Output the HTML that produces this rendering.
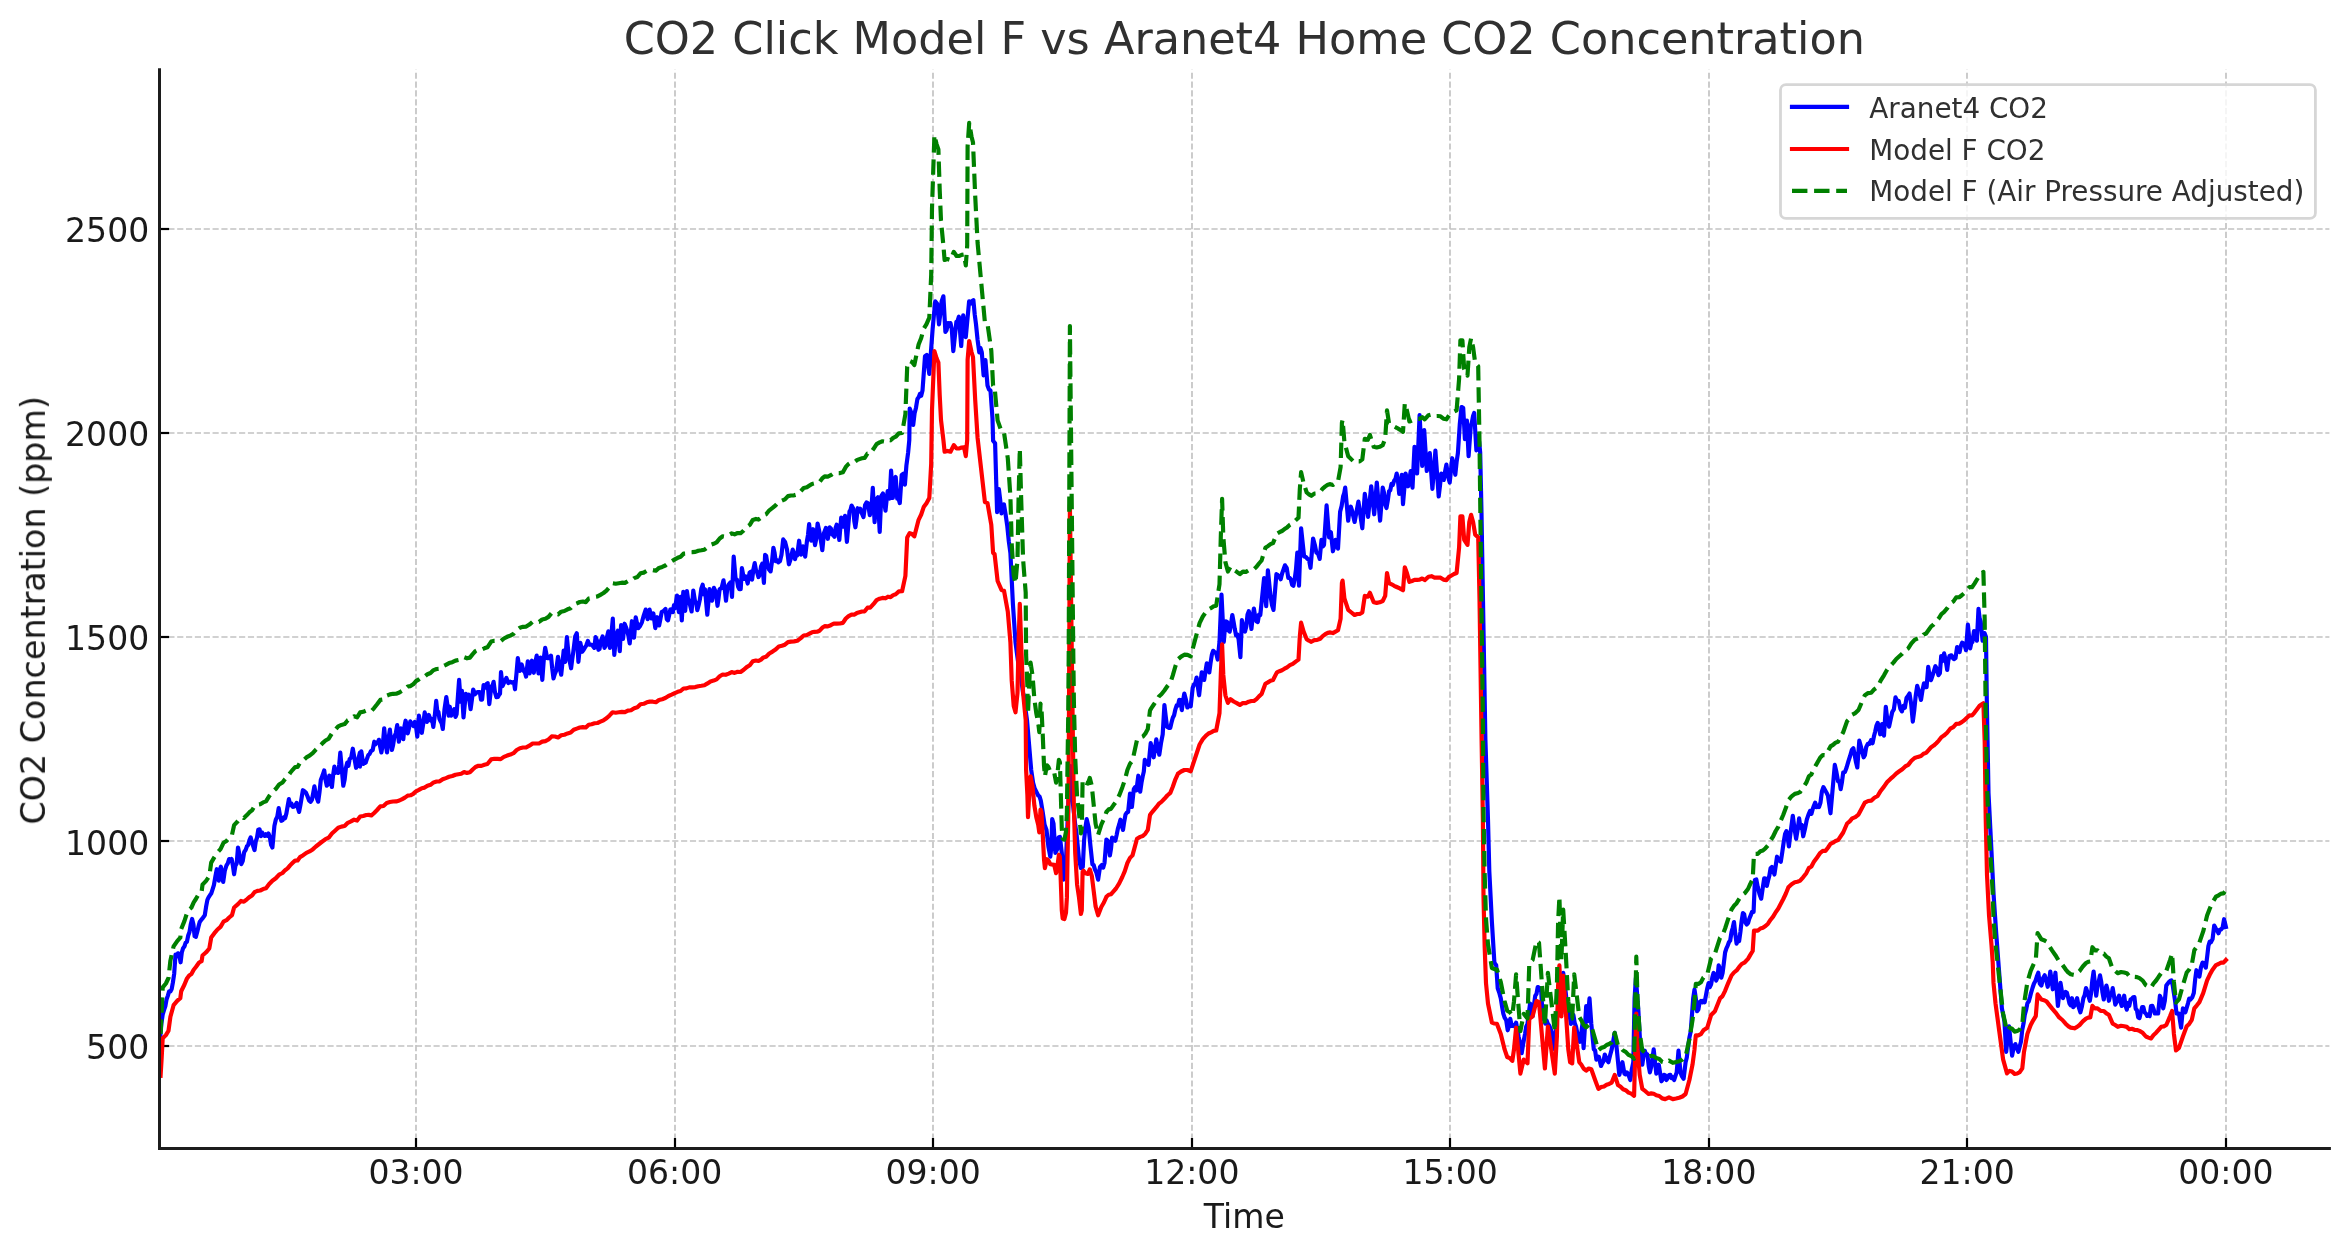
<!DOCTYPE html>
<html lang="en"><head><meta charset="utf-8"><title>CO2 Click Model F vs Aranet4 Home CO2 Concentration</title>
<style>
html,body{margin:0;padding:0;background:#fff;}
body{width:2348px;height:1255px;overflow:hidden;}
svg{display:block;}
text{font-family:"DejaVu Sans","Liberation Sans",sans-serif;}
.tick{font-size:33.05px;fill:#1a1a1a;}
.xl{font-size:33.05px;fill:#1a1a1a;}
.lab{font-size:33.33px;fill:#1a1a1a;}
.ttl{font-size:44.54px;fill:#303030;}
.leg{font-size:27.8px;fill:#303030;}
</style></head><body>
<svg width="2348" height="1255" viewBox="0 0 2348 1255">
<rect width="2348" height="1255" fill="#ffffff"/>

<g stroke="#c2c2c2" stroke-width="1.67" stroke-dasharray="6.17 2.67" fill="none">
<line x1="416" y1="1148.5" x2="416" y2="69.7"/>
<line x1="675" y1="1148.5" x2="675" y2="69.7"/>
<line x1="933" y1="1148.5" x2="933" y2="69.7"/>
<line x1="1192" y1="1148.5" x2="1192" y2="69.7"/>
<line x1="1450" y1="1148.5" x2="1450" y2="69.7"/>
<line x1="1709" y1="1148.5" x2="1709" y2="69.7"/>
<line x1="1967" y1="1148.5" x2="1967" y2="69.7"/>
<line x1="2226" y1="1148.5" x2="2226" y2="69.7"/>
<line x1="159.5" y1="1046" x2="2329.4" y2="1046"/>
<line x1="159.5" y1="841" x2="2329.4" y2="841"/>
<line x1="159.5" y1="637" x2="2329.4" y2="637"/>
<line x1="159.5" y1="433" x2="2329.4" y2="433"/>
<line x1="159.5" y1="229" x2="2329.4" y2="229"/>
</g>
<g stroke="#000" stroke-width="2.2" fill="none">
<line x1="416" y1="1148.5" x2="416" y2="1138.0"/>
<line x1="675" y1="1148.5" x2="675" y2="1138.0"/>
<line x1="933" y1="1148.5" x2="933" y2="1138.0"/>
<line x1="1192" y1="1148.5" x2="1192" y2="1138.0"/>
<line x1="1450" y1="1148.5" x2="1450" y2="1138.0"/>
<line x1="1709" y1="1148.5" x2="1709" y2="1138.0"/>
<line x1="1967" y1="1148.5" x2="1967" y2="1138.0"/>
<line x1="2226" y1="1148.5" x2="2226" y2="1138.0"/>
<line x1="159.5" y1="1046" x2="169.1" y2="1046"/>
<line x1="159.5" y1="841" x2="169.1" y2="841"/>
<line x1="159.5" y1="637" x2="169.1" y2="637"/>
<line x1="159.5" y1="433" x2="169.1" y2="433"/>
<line x1="159.5" y1="229" x2="169.1" y2="229"/>
</g>
<clipPath id="c"><rect x="159.5" y="69.7" width="2169.9" height="1078.8"/></clipPath>
<g clip-path="url(#c)" fill="none" stroke-width="4.17" stroke-linejoin="round">
<path d="M160.2,1037.5 L161.4,1023.4 L162.7,1014.5 L164.0,1010.2 L165.3,1006.4 L166.6,999.2 L167.9,995.6 L169.1,991.3 L170.4,991.4 L171.7,989.0 L172.9,982.4 L174.2,973.7 L175.5,954.6 L176.8,956.3 L178.0,953.3 L179.3,955.2 L180.6,962.3 L181.8,952.5 L183.1,948.2 L184.4,946.5 L185.6,942.8 L186.9,941.9 L188.2,935.5 L189.5,932.0 L190.8,924.2 L192.1,918.9 L193.4,924.3 L194.6,936.2 L195.9,936.8 L197.2,932.0 L198.4,926.9 L199.7,922.0 L201.0,920.2 L202.3,918.7 L203.5,917.1 L204.8,915.1 L206.1,906.7 L207.4,899.8 L208.7,897.1 L209.9,895.3 L211.2,893.6 L212.5,889.6 L213.9,885.1 L215.4,876.4 L216.8,869.2 L218.8,880.7 L219.9,869.9 L220.9,866.7 L222.1,875.8 L223.2,882.0 L224.8,870.7 L226.5,865.4 L227.8,863.4 L229.1,859.1 L230.3,860.6 L231.6,859.0 L232.8,865.0 L234.1,874.3 L235.4,865.8 L236.7,863.4 L238.0,847.5 L239.7,855.7 L241.3,864.1 L242.7,861.2 L244.2,852.0 L245.6,850.1 L246.9,846.3 L248.1,845.1 L249.4,840.4 L250.7,837.4 L252.0,842.4 L253.2,846.1 L254.5,850.1 L255.8,841.2 L257.0,837.7 L258.3,829.7 L259.6,829.3 L260.9,836.2 L262.1,832.5 L263.4,834.8 L264.7,835.9 L265.9,834.2 L267.2,835.8 L268.5,833.5 L269.8,836.9 L271.1,844.9 L272.4,847.5 L274.4,825.9 L275.8,819.7 L277.3,816.6 L278.7,808.0 L280.0,815.7 L281.3,820.8 L282.6,820.2 L283.8,817.4 L285.1,818.2 L286.4,813.4 L287.6,806.4 L288.9,799.1 L290.2,805.1 L291.4,803.4 L292.7,806.8 L294.0,806.7 L295.3,805.3 L296.6,802.9 L297.9,808.0 L299.1,811.9 L300.4,805.1 L301.6,797.8 L302.9,790.2 L304.4,791.2 L306.0,792.7 L307.5,796.3 L309.1,800.6 L310.6,801.7 L311.9,799.8 L313.1,793.6 L314.4,786.4 L315.7,793.7 L316.9,798.2 L318.2,801.7 L319.5,792.3 L320.8,780.0 L322.5,775.6 L324.2,770.4 L325.5,779.7 L326.8,785.7 L328.1,784.3 L329.3,775.5 L330.6,780.6 L331.9,787.0 L333.1,775.3 L334.4,766.6 L335.7,772.8 L336.9,771.3 L338.2,772.9 L339.2,764.8 L340.3,752.6 L343.3,785.7 L344.6,779.9 L345.9,768.0 L347.2,762.7 L348.4,765.9 L349.7,758.9 L351.2,757.5 L352.8,748.7 L354.5,758.6 L356.1,767.8 L357.4,764.3 L358.6,757.9 L359.9,752.6 L360.0,766.6 L361.3,751.3 L363.2,764.0 L364.4,761.5 L365.7,762.7 L367.0,758.7 L368.3,755.1 L369.6,754.0 L370.8,751.3 L372.7,750.0 L374.3,741.7 L375.5,744.3 L376.6,742.3 L377.8,742.5 L378.9,739.8 L380.1,746.3 L381.4,752.5 L382.9,743.6 L384.2,728.3 L385.6,743.2 L387.0,752.5 L388.4,739.5 L389.9,729.6 L391.9,750.0 L393.1,745.0 L394.4,736.6 L395.8,733.2 L397.2,725.1 L398.9,741.7 L400.8,728.3 L402.1,733.1 L403.3,739.2 L404.5,726.2 L405.6,720.7 L406.7,725.1 L407.8,733.4 L409.1,727.8 L410.3,721.3 L411.4,723.7 L412.5,723.9 L413.6,726.2 L414.8,721.9 L416.1,727.1 L417.3,736.6 L418.9,715.6 L420.4,724.2 L421.8,732.8 L423.2,724.0 L424.7,712.4 L425.8,716.8 L426.9,721.9 L428.8,714.9 L430.7,720.7 L432.0,718.9 L433.3,727.0 L434.8,715.6 L436.2,700.9 L437.3,711.2 L438.4,711.8 L439.4,718.7 L440.5,721.3 L441.6,723.2 L442.8,729.0 L444.5,709.2 L446.3,697.1 L447.5,705.5 L448.6,715.6 L449.8,706.7 L451.1,715.6 L452.7,712.9 L454.3,709.2 L455.5,717.0 L456.6,714.3 L459.1,679.9 L460.7,701.6 L461.9,690.7 L463.5,717.5 L465.8,693.9 L467.2,695.5 L468.6,694.6 L470.6,709.2 L471.9,699.6 L473.2,689.5 L474.9,694.3 L476.6,692.6 L478.2,692.1 L479.8,692.0 L481.0,699.7 L482.1,699.6 L483.6,685.0 L485.5,687.5 L486.6,683.9 L487.7,683.1 L489.3,704.1 L490.4,694.2 L491.5,686.3 L492.6,685.6 L493.6,681.8 L495.0,692.4 L496.4,697.1 L497.9,696.9 L499.5,693.9 L500.0,693.8 L501.0,672.1 L502.5,686.2 L504.5,681.7 L506.4,677.9 L508.3,683.0 L510.2,681.7 L511.5,682.6 L512.7,682.3 L513.9,682.0 L515.0,689.3 L516.6,672.1 L517.8,658.1 L519.8,670.9 L521.7,664.5 L523.6,670.9 L524.9,672.3 L526.1,676.6 L527.8,661.3 L529.6,673.4 L530.8,665.8 L531.9,660.7 L533.8,672.8 L535.2,663.1 L536.7,655.6 L538.5,673.4 L540.5,657.5 L542.3,679.8 L544.0,656.9 L545.2,647.9 L547.2,658.1 L549.1,658.1 L551.0,655.6 L552.2,668.3 L553.5,678.5 L554.8,674.0 L556.1,670.9 L558.0,656.9 L559.6,667.5 L561.2,674.7 L563.7,650.5 L565.2,661.9 L566.9,637.1 L568.8,656.9 L570.0,662.8 L571.1,668.3 L572.2,659.4 L573.3,651.8 L575.2,636.5 L576.8,633.3 L578.4,661.9 L580.3,642.8 L582.2,651.8 L583.5,650.1 L584.7,647.9 L586.3,645.3 L587.9,640.9 L589.2,644.6 L590.5,644.7 L591.8,644.8 L593.0,646.3 L594.3,647.9 L595.6,637.1 L597.0,640.6 L598.4,649.8 L599.5,649.1 L600.7,641.6 L602.6,636.5 L604.5,647.9 L605.6,645.8 L606.8,637.7 L608.3,631.4 L609.9,647.9 L611.5,633.3 L612.8,618.6 L614.3,654.9 L616.0,636.5 L617.9,630.7 L619.8,651.1 L621.1,625.0 L623.0,639.0 L624.6,623.7 L626.0,627.2 L627.4,631.4 L628.5,636.4 L629.7,643.5 L631.9,621.2 L633.0,626.9 L634.1,637.7 L635.7,617.3 L637.0,623.1 L638.3,628.2 L640.0,626.2 L641.9,622.3 L643.8,615.3 L645.7,609.6 L647.6,619.2 L649.6,609.6 L651.5,618.5 L653.4,613.4 L655.3,628.1 L657.2,617.2 L659.1,625.5 L660.4,619.2 L661.7,612.1 L663.6,610.9 L665.5,609.0 L666.8,619.3 L668.0,620.4 L669.1,615.5 L670.3,609.6 L671.6,609.2 L672.9,612.1 L674.0,605.1 L675.0,608.3 L677.0,595.6 L678.9,612.1 L680.5,596.9 L681.8,620.4 L683.3,591.8 L685.2,610.9 L686.9,591.1 L688.0,598.9 L689.1,600.7 L690.4,606.5 L691.6,611.5 L693.3,590.5 L695.1,601.9 L696.2,602.7 L697.3,610.2 L698.6,605.2 L699.9,599.4 L701.3,588.7 L702.7,584.7 L703.9,594.3 L705.0,589.2 L707.3,614.7 L709.5,589.2 L710.8,597.3 L712.0,600.7 L713.9,587.9 L715.8,591.8 L717.5,605.8 L718.5,598.7 L719.6,589.2 L721.6,587.9 L723.5,580.3 L724.8,590.1 L726.0,600.7 L727.3,588.2 L728.6,584.7 L729.7,583.2 L730.7,582.2 L732.0,596.9 L733.7,556.7 L735.6,579.0 L736.9,579.6 L738.1,586.7 L739.4,589.2 L740.7,589.2 L741.9,568.2 L743.9,579.0 L745.8,576.5 L747.7,583.5 L749.6,572.6 L750.9,571.6 L752.1,579.6 L753.4,569.4 L754.7,563.1 L756.0,570.4 L757.2,572.6 L758.5,577.1 L759.8,574.6 L761.0,566.7 L762.3,563.7 L763.9,582.8 L765.1,554.8 L766.2,556.0 L767.4,563.7 L769.0,569.4 L770.6,571.4 L772.0,561.4 L773.4,547.8 L774.5,552.4 L775.7,561.2 L777.0,560.3 L778.3,562.4 L780.0,561.1 L781.5,554.7 L783.2,539.4 L785.1,541.9 L787.0,549.6 L788.9,564.3 L790.8,558.5 L792.7,549.6 L793.9,552.9 L795.0,559.2 L796.1,554.8 L797.2,555.3 L799.1,540.7 L801.0,554.7 L802.9,546.4 L804.0,550.1 L805.2,556.6 L807.0,540.7 L808.0,535.0 L809.1,524.1 L810.2,533.8 L811.2,540.7 L813.1,529.2 L815.0,545.1 L816.3,538.6 L817.6,523.5 L818.9,529.4 L820.1,535.6 L821.2,542.6 L822.3,550.2 L824.0,533.0 L825.9,527.9 L827.8,538.8 L829.7,527.3 L831.0,528.7 L832.2,534.3 L833.4,535.3 L834.5,536.9 L835.6,528.0 L836.7,524.7 L838.0,528.6 L839.3,540.0 L841.2,517.7 L843.1,526.7 L845.0,515.8 L846.9,541.9 L849.5,511.4 L850.5,510.0 L851.6,505.6 L853.3,508.8 L854.3,521.1 L855.4,527.3 L856.5,519.5 L857.7,508.2 L859.0,511.3 L860.3,508.8 L861.9,513.5 L863.5,517.1 L865.1,505.0 L866.5,502.5 L867.9,503.1 L869.8,515.2 L871.5,507.5 L872.8,487.8 L874.6,522.2 L876.2,499.3 L877.9,497.3 L879.7,531.8 L881.3,496.1 L883.0,493.5 L884.2,502.3 L885.5,510.7 L886.6,500.1 L887.7,491.0 L889.6,498.6 L891.1,470.6 L892.8,498.0 L894.4,479.5 L895.7,477.0 L897.2,498.6 L898.5,498.5 L899.8,503.1 L901.7,475.0 L903.4,473.8 L904.9,484.6 L906.4,465.5 L908.1,452.7 L909.3,440.0 L909.7,408.6 L911.5,413.2 L913.2,425.0 L914.6,413.2 L916.0,407.7 L917.4,399.0 L918.7,397.2 L920.0,393.8 L921.2,395.7 L922.5,390.6 L925.0,356.2 L926.8,354.9 L928.0,364.8 L929.3,374.0 L932.6,329.4 L935.2,301.4 L937.2,303.9 L939.0,324.3 L940.3,314.1 L941.6,301.4 L943.4,296.3 L945.4,332.0 L946.6,330.1 L947.9,323.0 L949.2,323.4 L950.5,323.1 L951.8,329.4 L953.3,351.1 L956.4,321.8 L957.6,320.8 L958.9,316.7 L961.2,346.0 L963.2,315.4 L964.5,324.8 L965.8,337.1 L969.1,301.4 L970.5,303.7 L972.0,301.2 L973.4,300.1 L974.7,314.3 L976.0,324.3 L977.6,340.0 L979.3,352.4 L980.5,348.0 L981.8,352.4 L983.6,375.3 L985.4,360.0 L987.5,385.5 L989.0,389.6 L990.5,390.6 L992.5,418.6 L993.1,440.8 L995.1,443.3 L997.1,512.2 L998.9,489.2 L1000.2,499.9 L1001.5,513.4 L1002.8,507.4 L1004.0,504.5 L1005.6,514.4 L1007.3,526.2 L1008.8,541.2 L1010.4,552.9 L1012.9,603.9 L1015.5,642.2 L1016.8,652.6 L1018.0,661.3 L1019.3,667.7 L1020.6,672.7 L1021.8,683.4 L1023.1,693.1 L1024.4,697.1 L1025.7,710.8 L1027.0,720.0 L1031.2,770.0 L1033.1,782.7 L1034.7,788.5 L1036.3,791.7 L1038.2,795.5 L1039.5,796.4 L1040.8,800.6 L1042.7,812.1 L1044.6,824.8 L1046.5,829.9 L1048.4,846.5 L1050.3,856.7 L1051.4,846.5 L1052.2,819.1 L1053.5,823.5 L1055.4,852.8 L1057.3,849.0 L1058.6,837.5 L1059.9,836.9 L1061.8,852.8 L1063.7,879.6 L1064.8,870.3 L1066.0,860.0 L1068.5,800.0 L1070.5,766.0 L1072.5,800.0 L1073.8,811.7 L1075.2,824.6 L1076.5,833.7 L1079.0,859.2 L1080.9,868.1 L1082.8,866.9 L1084.1,840.1 L1085.4,827.9 L1086.7,819.1 L1088.6,827.3 L1090.5,846.5 L1092.4,864.3 L1093.7,865.1 L1094.9,869.4 L1096.5,872.9 L1098.1,879.6 L1100.0,866.9 L1101.9,864.9 L1103.2,867.6 L1104.5,863.0 L1106.4,839.5 L1108.3,841.4 L1109.9,855.4 L1111.0,848.7 L1112.1,837.5 L1113.7,838.8 L1115.3,840.7 L1116.6,835.1 L1117.9,828.6 L1119.2,824.4 L1120.4,819.7 L1121.7,825.2 L1123.0,829.9 L1124.2,821.8 L1125.5,814.6 L1126.8,812.6 L1128.1,812.1 L1130.0,793.6 L1131.9,807.0 L1133.8,789.1 L1135.1,787.1 L1136.4,790.4 L1138.3,775.7 L1140.2,791.7 L1141.5,782.7 L1142.7,776.4 L1143.8,771.6 L1144.8,759.8 L1146.1,762.6 L1147.3,763.3 L1148.6,764.9 L1150.7,743.2 L1152.2,749.8 L1153.7,757.3 L1155.0,748.5 L1156.3,739.4 L1157.8,747.8 L1159.3,754.7 L1161.0,743.1 L1162.7,734.3 L1164.4,705.0 L1165.7,716.3 L1167.0,726.7 L1168.7,727.8 L1170.3,727.9 L1171.6,722.1 L1172.8,717.8 L1174.1,715.2 L1175.4,709.3 L1176.7,705.3 L1177.9,705.6 L1179.2,699.9 L1180.5,700.0 L1181.8,710.1 L1183.0,701.2 L1184.3,693.5 L1185.8,699.2 L1187.4,707.5 L1189.1,705.6 L1190.7,706.3 L1192.7,687.7 L1194.0,684.5 L1195.3,683.3 L1196.6,677.5 L1197.8,686.6 L1199.1,695.3 L1200.4,683.6 L1201.7,672.4 L1203.0,674.9 L1204.2,680.0 L1205.5,671.4 L1206.8,663.4 L1208.0,669.8 L1209.3,672.4 L1210.6,662.6 L1211.9,654.5 L1213.2,650.8 L1214.4,652.0 L1216.1,653.1 L1217.7,659.6 L1219.5,641.8 L1221.5,594.6 L1223.8,641.8 L1224.8,629.3 L1225.9,621.4 L1227.2,621.9 L1228.4,630.5 L1229.7,631.6 L1231.0,624.0 L1232.3,615.0 L1233.5,621.5 L1234.8,629.0 L1236.1,635.5 L1237.3,634.4 L1238.6,639.2 L1240.4,657.1 L1241.9,620.1 L1243.5,627.4 L1245.0,631.6 L1246.3,626.5 L1247.5,614.8 L1248.8,611.2 L1250.1,616.8 L1251.4,629.0 L1252.7,616.9 L1253.9,608.6 L1255.2,616.9 L1256.5,621.4 L1257.8,622.0 L1259.0,614.6 L1260.3,615.0 L1264.1,578.0 L1266.2,606.1 L1267.9,570.4 L1270.5,595.9 L1272.0,605.1 L1273.5,609.9 L1276.4,574.2 L1277.8,575.1 L1279.3,576.8 L1280.7,579.3 L1282.1,573.5 L1283.6,569.3 L1285.0,565.3 L1286.7,567.8 L1288.3,578.0 L1289.6,577.8 L1290.8,579.3 L1292.1,584.8 L1293.4,585.7 L1294.7,579.1 L1296.0,569.4 L1297.3,552.6 L1299.0,585.7 L1301.1,528.3 L1304.1,556.4 L1305.8,556.9 L1307.5,558.9 L1309.0,559.7 L1310.5,567.8 L1313.1,538.5 L1314.8,544.7 L1316.4,552.6 L1318.1,553.8 L1319.7,558.9 L1321.5,539.8 L1322.8,546.5 L1324.0,544.9 L1326.6,505.4 L1329.1,537.3 L1330.9,532.2 L1332.9,551.3 L1334.2,546.7 L1335.5,539.8 L1336.8,542.7 L1338.0,548.7 L1340.1,511.8 L1341.6,506.1 L1343.1,496.5 L1344.2,493.2 L1345.2,487.6 L1348.2,520.7 L1349.5,510.3 L1350.8,506.7 L1352.1,510.7 L1353.3,516.4 L1354.6,522.0 L1355.9,515.2 L1357.1,508.7 L1358.4,501.6 L1359.7,509.8 L1361.0,519.8 L1362.3,528.3 L1364.8,493.9 L1366.4,504.2 L1368.1,516.9 L1371.2,486.3 L1374.2,514.3 L1376.8,482.5 L1380.1,520.7 L1382.7,487.6 L1384.0,492.5 L1385.2,504.4 L1386.5,508.0 L1387.8,500.5 L1389.0,491.4 L1390.3,490.2 L1391.5,483.8 L1392.8,485.0 L1394.1,480.8 L1395.4,479.1 L1396.7,473.5 L1398.0,481.0 L1399.2,493.9 L1400.5,486.7 L1401.8,474.8 L1403.0,504.1 L1405.6,473.5 L1406.8,479.1 L1408.1,486.3 L1409.4,479.5 L1410.7,471.0 L1412.5,487.6 L1414.5,446.8 L1417.1,473.5 L1419.6,415.0 L1422.2,465.9 L1424.2,430.2 L1426.8,471.0 L1428.3,461.8 L1429.8,453.1 L1432.4,488.8 L1435.4,450.6 L1438.7,496.5 L1440.0,485.5 L1441.3,473.5 L1442.5,479.2 L1443.8,479.9 L1445.1,471.4 L1446.4,464.6 L1448.1,476.8 L1449.7,482.5 L1452.2,458.2 L1453.8,464.9 L1455.3,474.8 L1456.6,462.0 L1457.9,453.1 L1459.8,423.9 L1461.5,407.0 L1463.2,407.8 L1464.9,439.2 L1466.9,420.5 L1468.6,456.2 L1470.8,425.6 L1471.9,422.4 L1473.0,416.3 L1474.2,412.9 L1476.4,450.3 L1478.1,435.8 L1479.2,442.1 L1480.2,452.8 L1481.5,513.0 L1485.4,740.0 L1488.0,820.0 L1489.3,871.0 L1491.9,922.0 L1494.4,962.8 L1496.2,965.3 L1497.7,988.2 L1499.2,992.5 L1500.8,998.4 L1502.1,1006.7 L1503.3,1013.7 L1504.6,1017.6 L1506.2,1020.2 L1507.7,1030.3 L1509.0,1025.6 L1510.2,1018.8 L1511.8,1026.0 L1513.5,1025.2 L1514.8,1026.4 L1516.1,1022.6 L1517.3,1029.1 L1518.6,1036.7 L1520.2,1043.7 L1521.7,1053.2 L1523.3,1043.0 L1525.0,1034.1 L1526.2,1026.6 L1527.5,1023.9 L1528.8,1013.1 L1530.1,1003.5 L1531.3,1009.5 L1532.6,1016.3 L1533.9,1005.8 L1535.2,995.9 L1536.5,993.9 L1537.7,987.0 L1539.4,987.8 L1541.1,989.5 L1542.8,1018.8 L1544.1,1017.0 L1545.3,1023.6 L1546.6,1020.4 L1547.9,1023.9 L1549.2,1025.5 L1550.5,1028.8 L1551.8,1031.6 L1553.3,1039.8 L1554.8,1049.4 L1556.9,1018.8 L1558.2,1006.5 L1559.4,998.4 L1561.4,1013.7 L1563.2,972.9 L1564.5,982.6 L1565.8,993.3 L1567.0,1005.5 L1568.3,1008.6 L1569.6,1015.0 L1570.9,1023.9 L1572.2,1019.2 L1573.4,1015.0 L1574.7,1023.1 L1576.0,1026.5 L1577.3,1033.2 L1578.5,1038.3 L1579.8,1041.8 L1581.1,1034.7 L1582.4,1023.9 L1583.6,1048.1 L1586.2,1006.1 L1587.5,1021.4 L1589.5,998.4 L1591.3,1023.9 L1593.8,1049.4 L1595.1,1050.4 L1596.4,1059.6 L1597.7,1056.5 L1598.9,1057.0 L1600.0,1061.8 L1601.0,1066.0 L1602.3,1063.2 L1603.5,1061.1 L1604.8,1054.5 L1606.6,1059.3 L1608.4,1062.2 L1610.1,1055.3 L1611.7,1049.4 L1613.2,1041.2 L1614.7,1032.8 L1615.8,1040.7 L1616.8,1049.4 L1619.3,1074.9 L1620.8,1069.1 L1622.4,1062.2 L1624.4,1073.6 L1625.7,1074.4 L1627.0,1072.4 L1628.7,1075.5 L1630.3,1080.0 L1631.8,1069.4 L1633.3,1062.2 L1634.6,998.4 L1635.9,978.0 L1638.4,1011.2 L1640.5,1049.4 L1642.3,1064.7 L1643.5,1055.9 L1644.8,1050.7 L1646.1,1054.9 L1647.4,1054.5 L1648.7,1066.1 L1649.9,1072.4 L1651.2,1066.8 L1652.4,1058.9 L1653.7,1049.4 L1656.3,1073.6 L1657.5,1070.9 L1658.8,1064.7 L1660.1,1073.0 L1661.4,1081.3 L1662.7,1079.5 L1663.9,1074.9 L1665.2,1075.2 L1666.5,1080.0 L1667.8,1077.9 L1669.0,1075.1 L1670.3,1074.9 L1671.6,1078.1 L1672.8,1077.1 L1674.1,1080.0 L1675.4,1076.0 L1676.7,1072.4 L1678.5,1050.7 L1680.5,1072.4 L1682.0,1076.4 L1683.6,1078.7 L1685.6,1062.2 L1686.8,1057.4 L1688.1,1046.9 L1689.4,1037.6 L1690.7,1031.6 L1693.2,998.4 L1694.5,989.5 L1695.8,998.4 L1697.1,1011.2 L1698.4,1009.5 L1699.6,1002.1 L1700.9,1001.0 L1702.2,1002.4 L1703.4,1000.6 L1704.7,1002.2 L1706.0,995.0 L1707.3,988.2 L1708.6,983.1 L1709.8,987.2 L1711.1,984.4 L1712.3,977.6 L1713.6,972.9 L1714.9,974.9 L1716.2,980.6 L1717.5,977.3 L1718.7,965.3 L1720.0,969.3 L1721.3,977.7 L1722.6,972.9 L1723.8,963.6 L1725.1,952.5 L1726.4,948.4 L1727.6,945.9 L1728.9,942.3 L1730.2,940.6 L1731.5,932.1 L1732.7,928.0 L1734.0,922.0 L1735.3,933.9 L1736.6,943.6 L1737.8,940.4 L1739.1,941.1 L1740.4,932.0 L1741.6,921.3 L1742.9,913.0 L1744.2,914.2 L1745.5,922.5 L1746.8,924.5 L1748.1,922.9 L1749.3,918.7 L1750.6,915.6 L1752.1,911.8 L1753.6,911.8 L1754.9,879.9 L1756.3,879.4 L1757.8,887.3 L1759.5,894.0 L1761.2,898.7 L1762.7,888.3 L1764.2,878.3 L1765.5,878.6 L1766.8,886.0 L1768.0,880.8 L1769.3,875.8 L1770.6,868.2 L1771.9,866.9 L1773.2,870.6 L1774.4,874.5 L1775.7,865.9 L1777.0,856.7 L1778.3,859.1 L1779.5,860.6 L1780.8,861.8 L1782.3,852.0 L1783.8,841.4 L1785.1,833.9 L1786.4,831.2 L1787.7,838.0 L1788.9,846.5 L1790.2,835.2 L1791.5,825.6 L1792.8,815.9 L1794.4,827.9 L1796.1,838.8 L1797.6,829.9 L1799.1,818.4 L1800.5,827.8 L1801.8,824.9 L1803.2,836.3 L1805.0,828.8 L1806.8,819.7 L1808.4,814.8 L1810.1,810.8 L1811.4,813.9 L1812.6,809.4 L1813.9,805.7 L1815.2,802.6 L1816.5,807.2 L1817.7,805.6 L1819.0,807.0 L1820.5,802.5 L1821.9,791.5 L1823.4,787.1 L1824.9,789.7 L1826.4,792.4 L1827.9,795.5 L1829.2,804.2 L1830.5,813.3 L1834.8,764.9 L1836.4,772.0 L1838.1,781.5 L1839.4,781.4 L1840.7,789.1 L1842.0,781.8 L1843.2,772.6 L1844.9,772.1 L1846.6,767.5 L1848.3,761.6 L1850.1,756.0 L1851.8,750.0 L1853.4,748.3 L1854.7,755.1 L1856.0,762.3 L1857.3,767.5 L1859.3,740.7 L1860.7,745.9 L1862.2,751.7 L1863.6,757.3 L1864.9,755.2 L1866.2,747.1 L1867.8,743.8 L1869.4,744.0 L1871.0,740.2 L1872.6,743.2 L1873.9,736.6 L1875.2,731.4 L1876.4,725.9 L1877.7,722.8 L1879.0,727.1 L1880.2,734.3 L1882.0,724.1 L1884.0,735.6 L1885.8,706.8 L1887.4,720.5 L1889.1,726.7 L1890.7,719.0 L1892.3,711.8 L1893.9,709.3 L1895.5,697.4 L1897.1,700.8 L1898.7,700.8 L1900.3,708.7 L1901.9,711.4 L1903.4,705.9 L1904.9,707.7 L1906.5,698.0 L1908.0,695.9 L1909.5,693.5 L1911.2,704.2 L1912.8,721.6 L1914.3,709.9 L1915.7,695.7 L1917.2,685.9 L1918.5,690.4 L1919.7,694.4 L1921.0,699.9 L1922.5,690.3 L1924.0,683.3 L1925.3,687.2 L1926.6,687.2 L1928.2,666.8 L1929.6,675.5 L1931.0,680.2 L1932.2,676.5 L1933.5,672.5 L1935.4,666.2 L1936.9,668.8 L1938.4,675.1 L1939.9,673.2 L1941.2,656.0 L1942.4,661.1 L1944.1,653.4 L1945.6,659.8 L1947.2,670.0 L1948.3,660.8 L1949.5,656.0 L1951.4,655.3 L1952.7,657.8 L1953.9,659.2 L1955.5,658.1 L1957.1,647.0 L1958.3,648.6 L1959.6,652.1 L1960.9,645.7 L1962.2,642.6 L1963.5,643.7 L1964.7,645.4 L1966.0,650.2 L1967.9,624.7 L1970.2,648.3 L1971.3,643.1 L1972.4,642.0 L1974.0,631.1 L1975.5,635.5 L1976.9,640.7 L1978.5,608.8 L1979.6,618.2 L1980.7,621.6 L1982.6,640.7 L1984.5,633.0 L1986.0,636.9 L1986.8,700.0 L1988.5,793.0 L1991.1,843.9 L1993.6,894.9 L1996.2,933.1 L1998.0,957.5 L2001.9,1008.4 L2003.2,1014.8 L2004.4,1021.2 L2006.2,1051.8 L2007.6,1038.0 L2009.0,1026.3 L2012.1,1055.6 L2013.8,1046.5 L2015.4,1044.1 L2016.9,1048.4 L2018.4,1051.8 L2019.7,1046.6 L2021.0,1041.6 L2022.2,1030.1 L2023.5,1023.7 L2024.8,1014.6 L2026.1,1010.0 L2027.4,1003.3 L2028.7,1001.6 L2030.0,997.0 L2031.2,992.3 L2032.5,988.0 L2034.0,983.5 L2035.4,981.0 L2036.8,976.5 L2038.3,972.7 L2039.8,983.7 L2041.4,985.5 L2043.1,978.0 L2044.7,975.3 L2046.2,980.3 L2047.7,986.8 L2049.0,981.8 L2050.3,971.5 L2051.6,979.8 L2052.8,989.3 L2054.1,984.0 L2055.4,972.7 L2057.9,1005.9 L2059.2,994.3 L2060.5,982.9 L2061.8,990.9 L2063.0,998.2 L2064.3,994.3 L2065.6,991.9 L2066.9,992.8 L2068.1,997.5 L2069.4,1003.3 L2070.7,1005.4 L2072.0,998.2 L2073.2,1007.2 L2074.5,1005.6 L2075.8,1002.5 L2077.1,998.2 L2078.8,1007.3 L2080.4,1012.3 L2081.9,1006.4 L2083.4,998.2 L2084.7,995.2 L2086.0,988.0 L2087.3,991.7 L2088.5,996.1 L2089.8,1000.8 L2091.1,993.1 L2092.3,980.5 L2093.6,971.5 L2096.2,995.7 L2097.5,986.1 L2098.7,981.6 L2100.0,975.3 L2101.3,982.2 L2102.5,992.7 L2103.8,999.5 L2105.1,991.0 L2106.4,985.5 L2107.7,990.9 L2108.9,1000.8 L2110.2,995.8 L2111.4,995.5 L2112.7,988.0 L2114.0,996.2 L2115.3,1004.6 L2116.6,1002.0 L2117.8,998.7 L2119.1,995.7 L2120.4,1001.4 L2121.7,1005.9 L2122.9,1002.7 L2124.2,995.7 L2125.5,1005.6 L2126.8,1009.7 L2128.1,1002.8 L2129.3,1005.8 L2130.6,999.5 L2131.9,998.7 L2133.1,997.2 L2134.4,997.0 L2135.7,1008.8 L2136.9,1010.2 L2138.2,1017.4 L2139.5,1018.1 L2140.8,1012.6 L2142.1,1007.2 L2143.4,1007.1 L2144.6,1012.4 L2145.9,1013.5 L2147.2,1015.9 L2148.4,1015.0 L2149.7,1016.1 L2151.0,1006.1 L2152.3,1005.9 L2153.6,1009.0 L2154.8,1013.5 L2156.4,1013.1 L2158.1,1013.5 L2159.9,995.7 L2161.6,999.7 L2163.2,1008.4 L2164.8,1000.8 L2166.3,985.5 L2167.6,983.7 L2168.9,982.1 L2170.1,981.0 L2171.4,980.4 L2172.7,985.1 L2173.9,993.1 L2175.2,1001.7 L2176.5,1013.5 L2177.8,1013.7 L2179.0,1013.5 L2180.1,1021.2 L2181.1,1027.6 L2182.9,1008.4 L2184.2,1009.3 L2185.4,1012.3 L2186.7,1007.6 L2188.0,1003.3 L2189.2,998.5 L2190.5,999.5 L2192.2,997.4 L2193.8,993.1 L2195.1,980.1 L2196.4,970.2 L2197.9,973.9 L2199.4,976.6 L2200.9,967.7 L2202.5,962.6 L2204.2,964.1 L2205.8,967.7 L2207.1,957.3 L2208.4,946.0 L2209.7,941.6 L2210.9,942.2 L2212.6,939.1 L2214.2,925.6 L2215.6,928.1 L2217.1,930.5 L2218.5,933.2 L2219.8,929.8 L2221.1,929.4 L2222.6,927.6 L2224.1,919.2 L2225.9,926.9" stroke="#0000ff" stroke-linecap="square"/>
<path d="M160.6,1075.7 L161.7,1057.4 L162.7,1038.3 L165.9,1035.1 L168.5,1030.7 L170.4,1016.7 L173.6,1005.2 L177.4,1000.7 L180.3,998.2 L181.2,991.2 L184.4,984.8 L187.0,978.4 L189.2,975.4 L191.4,974.0 L193.7,969.7 L195.9,967.0 L199.1,962.5 L201.6,961.2 L202.5,955.5 L206.1,952.3 L209.3,948.5 L211.2,937.6 L214.4,933.2 L217.5,929.5 L220.5,926.9 L223.5,921.7 L226.5,920.2 L229.2,917.5 L232.0,915.1 L234.1,907.5 L238.0,904.1 L241.0,900.9 L243.9,901.7 L246.9,899.3 L249.4,897.1 L252.0,895.5 L254.5,892.2 L257.4,890.9 L260.2,890.5 L263.1,889.1 L266.0,888.3 L269.2,884.0 L272.4,880.7 L275.8,878.2 L279.1,874.7 L282.5,873.0 L285.1,870.2 L287.6,868.4 L290.1,865.4 L292.7,862.8 L295.1,860.6 L297.6,860.5 L300.0,857.1 L303.2,855.2 L306.4,852.8 L309.5,851.4 L312.7,849.4 L315.9,846.5 L319.1,844.0 L322.3,841.5 L325.5,839.2 L328.7,837.7 L331.9,833.5 L335.0,830.7 L338.2,827.7 L341.4,826.6 L344.6,826.0 L347.8,822.8 L351.0,821.4 L354.1,819.7 L357.1,820.6 L360.2,816.5 L363.2,816.0 L366.3,815.0 L368.8,814.9 L371.4,815.4 L373.9,813.2 L377.1,810.0 L380.3,806.4 L383.5,806.0 L386.7,803.0 L389.9,802.0 L393.0,801.5 L396.2,801.4 L399.4,800.5 L402.2,799.1 L404.9,797.6 L407.7,795.6 L410.5,795.3 L413.2,793.9 L416.0,791.3 L418.9,789.9 L421.8,788.2 L424.6,787.6 L427.5,785.7 L430.5,784.8 L433.6,782.4 L436.6,781.5 L439.7,781.3 L442.7,779.3 L445.9,778.1 L449.1,776.8 L452.3,776.0 L455.5,774.7 L458.4,774.2 L461.2,773.8 L464.1,772.0 L467.0,772.9 L469.9,772.3 L472.7,769.5 L475.5,767.0 L478.4,765.8 L481.4,765.9 L484.4,764.8 L487.4,764.0 L491.2,759.4 L494.4,758.8 L497.5,758.9 L500.7,759.1 L503.9,756.9 L507.1,755.6 L510.3,754.6 L513.5,753.2 L516.7,750.0 L519.9,748.2 L523.0,747.5 L526.2,747.3 L529.4,745.7 L532.6,743.5 L535.8,743.5 L539.0,743.5 L542.2,741.6 L545.4,741.1 L548.5,739.5 L551.7,736.4 L554.9,736.5 L558.1,737.4 L561.2,735.3 L564.4,734.7 L567.6,733.4 L570.7,732.5 L573.7,729.7 L576.8,728.6 L579.8,727.5 L582.9,727.1 L585.8,727.5 L588.7,724.7 L591.6,724.2 L594.6,723.3 L597.5,723.0 L600.4,721.7 L603.5,720.3 L606.5,718.3 L609.6,715.4 L612.6,712.3 L615.7,712.7 L618.8,712.3 L621.8,711.9 L624.9,712.1 L627.9,710.6 L631.0,710.2 L634.2,708.2 L637.4,707.3 L640.5,704.3 L643.7,703.8 L646.8,702.3 L649.8,701.6 L652.9,701.7 L655.9,702.2 L659.0,700.0 L662.2,699.2 L665.3,698.0 L668.5,696.0 L671.6,694.7 L674.8,693.1 L677.7,691.8 L680.6,691.0 L683.5,688.5 L686.4,688.4 L689.3,687.4 L692.2,687.3 L695.3,687.1 L698.3,686.2 L701.4,685.8 L704.4,685.3 L707.5,683.4 L710.5,681.4 L713.6,680.6 L716.6,679.4 L719.7,676.3 L722.7,674.5 L725.7,674.8 L728.7,673.6 L731.7,672.1 L734.6,672.9 L737.6,671.8 L740.6,672.0 L743.7,669.8 L746.7,667.1 L749.8,665.3 L752.8,661.3 L755.9,660.5 L758.5,661.0 L761.0,659.6 L763.5,657.4 L766.1,656.7 L769.3,653.5 L772.5,651.6 L775.6,649.5 L778.8,646.5 L781.9,645.8 L784.9,644.7 L788.0,642.1 L791.0,641.6 L794.1,641.4 L797.3,640.7 L800.5,638.4 L803.7,635.5 L806.9,635.0 L809.5,633.6 L812.0,632.3 L814.5,631.8 L817.1,631.7 L819.6,630.7 L822.2,627.8 L824.7,626.1 L827.8,626.4 L830.8,625.2 L833.9,623.5 L836.9,623.6 L840.0,623.5 L842.9,622.9 L845.8,618.5 L848.6,616.1 L851.5,614.6 L854.1,614.7 L856.8,613.1 L859.4,612.3 L862.0,611.5 L864.7,611.3 L867.5,607.7 L870.2,607.7 L873.4,604.2 L876.6,600.1 L879.6,598.7 L882.5,597.9 L885.5,598.3 L888.0,596.7 L890.6,597.1 L893.2,595.1 L895.7,594.2 L898.9,591.4 L902.1,591.2 L905.4,575.9 L907.2,537.6 L909.7,533.1 L912.0,534.0 L914.3,536.4 L918.6,519.8 L921.2,514.5 L923.7,507.1 L926.5,503.3 L929.3,498.1 L931.2,463.7 L932.0,410.0 L934.4,351.1 L936.5,358.0 L938.4,362.5 L939.7,395.0 L941.0,420.0 L943.5,441.0 L944.6,451.7 L947.5,450.9 L950.5,451.7 L953.8,445.1 L956.6,448.5 L959.4,448.4 L961.7,447.5 L964.0,447.2 L965.8,456.1 L967.2,440.0 L967.6,360.0 L969.2,341.0 L971.5,352.0 L973.0,357.0 L975.2,400.0 L977.6,438.0 L981.1,468.8 L984.9,502.0 L987.5,503.2 L991.3,524.9 L993.1,552.9 L994.6,554.2 L997.6,581.0 L1001.5,589.9 L1004.0,590.7 L1007.8,611.6 L1010.4,642.2 L1011.7,680.4 L1013.7,705.9 L1015.5,712.3 L1017.5,693.1 L1018.6,642.2 L1019.8,603.9 L1021.1,642.2 L1023.1,693.1 L1025.7,720.0 L1026.1,770.0 L1027.4,795.5 L1028.0,817.2 L1029.6,786.6 L1030.6,776.4 L1032.5,786.6 L1034.4,805.7 L1036.3,817.2 L1038.2,824.8 L1039.3,832.4 L1040.5,809.5 L1041.4,812.1 L1042.7,833.7 L1044.0,859.2 L1044.9,868.1 L1046.9,859.2 L1048.4,860.5 L1050.3,864.3 L1054.2,864.9 L1056.1,873.2 L1057.3,866.9 L1058.9,854.7 L1059.9,856.7 L1060.9,884.7 L1061.8,910.2 L1062.7,918.5 L1064.4,919.1 L1066.0,912.7 L1066.9,897.4 L1067.5,859.2 L1068.2,821.0 L1068.7,770.0 L1069.9,505.0 L1073.3,770.0 L1073.9,808.2 L1075.2,852.8 L1077.1,884.7 L1079.0,897.4 L1080.9,914.0 L1081.8,910.2 L1082.6,872.0 L1083.5,870.7 L1085.4,873.2 L1087.9,873.9 L1089.8,869.4 L1091.8,875.8 L1093.7,891.1 L1095.6,906.4 L1098.1,915.3 L1101.3,907.0 L1103.9,902.5 L1106.4,896.8 L1108.7,894.7 L1110.9,894.3 L1113.5,891.3 L1116.0,888.5 L1119.2,883.4 L1122.3,877.0 L1124.8,871.2 L1127.4,863.0 L1130.0,857.9 L1132.5,855.4 L1137.0,838.8 L1140.2,836.9 L1142.8,836.0 L1145.3,833.7 L1147.8,829.9 L1150.0,815.0 L1151.2,813.3 L1153.8,810.1 L1156.3,807.2 L1158.9,803.7 L1161.4,801.9 L1164.4,798.8 L1167.3,795.5 L1170.3,792.9 L1172.8,786.7 L1175.4,779.3 L1177.9,773.8 L1181.1,771.5 L1184.3,770.0 L1187.5,770.0 L1190.7,771.3 L1199.6,744.5 L1202.8,739.2 L1206.0,735.6 L1208.5,733.5 L1211.1,732.3 L1213.7,730.9 L1216.2,730.5 L1219.5,713.1 L1220.8,674.9 L1222.1,644.3 L1223.3,674.9 L1225.4,695.3 L1227.9,702.9 L1230.5,699.1 L1233.6,701.5 L1236.8,703.1 L1239.9,705.0 L1242.9,703.0 L1245.8,703.2 L1248.8,701.7 L1251.4,701.0 L1253.9,701.0 L1256.5,699.1 L1259.0,696.4 L1261.6,694.0 L1265.4,683.8 L1267.9,682.4 L1270.5,680.8 L1273.0,680.0 L1276.9,672.4 L1279.5,671.2 L1282.0,670.2 L1284.5,668.7 L1287.1,667.3 L1289.9,665.2 L1292.8,663.9 L1295.7,661.6 L1298.5,659.6 L1299.8,636.7 L1301.1,622.7 L1303.6,631.6 L1306.7,639.2 L1309.0,640.7 L1311.3,641.8 L1314.3,640.1 L1317.2,639.9 L1320.2,638.7 L1322.7,636.1 L1325.3,634.2 L1327.8,632.9 L1330.3,632.4 L1332.9,633.1 L1335.5,631.7 L1338.0,630.3 L1340.6,618.8 L1341.9,583.1 L1342.6,580.6 L1344.4,598.4 L1348.2,609.9 L1351.4,612.5 L1354.6,615.0 L1357.2,614.0 L1359.7,614.0 L1362.3,612.5 L1364.8,595.9 L1367.9,596.7 L1369.9,592.8 L1373.7,602.3 L1376.7,602.9 L1379.7,602.3 L1382.7,601.0 L1385.2,595.9 L1387.0,573.0 L1389.0,583.1 L1391.6,584.3 L1394.1,585.8 L1396.7,587.0 L1399.8,588.4 L1403.0,590.3 L1404.8,567.3 L1406.9,573.0 L1409.4,581.9 L1412.0,581.0 L1414.5,579.9 L1417.1,579.8 L1419.6,579.7 L1422.2,578.5 L1424.7,580.1 L1428.5,576.8 L1431.5,576.2 L1434.5,577.6 L1437.5,577.5 L1440.5,577.7 L1443.4,579.6 L1446.4,580.1 L1449.0,576.9 L1451.5,575.5 L1454.0,574.0 L1456.6,573.0 L1459.1,547.5 L1460.4,516.4 L1462.4,516.4 L1464.2,539.8 L1467.5,544.9 L1469.3,522.0 L1471.1,514.8 L1473.1,522.0 L1475.2,534.7 L1478.2,537.3 L1479.5,598.4 L1481.6,740.0 L1482.9,820.0 L1483.5,896.5 L1484.7,947.5 L1486.0,983.1 L1488.0,1003.5 L1491.9,1022.6 L1494.5,1023.5 L1497.0,1023.9 L1500.8,1034.1 L1504.6,1049.4 L1507.2,1057.0 L1509.8,1058.2 L1512.3,1060.9 L1514.0,1049.4 L1516.1,1027.7 L1518.1,1049.4 L1520.4,1073.6 L1523.7,1059.6 L1527.5,1063.4 L1529.3,1018.8 L1532.6,1016.3 L1536.5,1001.0 L1539.0,1002.2 L1541.6,1031.6 L1544.9,1068.5 L1547.9,1026.5 L1551.3,1049.4 L1554.8,1073.6 L1556.9,1036.7 L1558.1,985.7 L1559.4,965.3 L1561.4,1016.3 L1563.2,975.5 L1565.8,1011.2 L1568.3,1049.4 L1570.1,1062.2 L1572.2,1063.4 L1574.2,1027.7 L1576.7,1044.3 L1579.3,1062.2 L1581.4,1064.8 L1583.6,1068.5 L1586.2,1070.5 L1588.7,1068.5 L1591.3,1069.3 L1595.1,1080.0 L1598.4,1088.9 L1601.2,1087.1 L1604.0,1086.4 L1606.6,1084.7 L1609.1,1083.9 L1611.7,1082.6 L1614.7,1074.9 L1618.0,1085.1 L1620.6,1086.8 L1623.1,1089.2 L1625.7,1090.2 L1628.5,1092.6 L1631.3,1093.6 L1634.1,1095.8 L1635.3,1049.4 L1636.3,1013.5 L1637.6,1049.4 L1639.7,1074.9 L1642.3,1088.9 L1645.4,1091.2 L1648.6,1094.0 L1651.2,1093.4 L1653.7,1093.8 L1656.3,1095.3 L1659.3,1096.0 L1662.2,1098.4 L1665.2,1099.1 L1669.0,1097.3 L1672.8,1099.1 L1676.0,1098.5 L1679.2,1097.8 L1682.4,1096.5 L1685.6,1094.0 L1689.4,1080.0 L1692.5,1064.7 L1694.5,1049.4 L1695.8,1035.4 L1698.3,1035.4 L1700.9,1034.1 L1703.4,1030.3 L1707.3,1027.7 L1711.1,1015.0 L1714.9,1011.2 L1717.5,1004.7 L1720.0,998.4 L1722.5,996.1 L1725.1,990.8 L1728.3,982.8 L1731.5,975.5 L1734.0,972.5 L1736.6,970.4 L1739.2,966.9 L1741.7,964.0 L1744.8,962.3 L1748.0,958.9 L1750.3,954.9 L1752.7,951.0 L1754.0,930.6 L1757.8,930.6 L1760.4,928.5 L1762.9,927.8 L1765.5,926.0 L1768.0,923.7 L1770.6,919.7 L1773.1,916.6 L1775.7,912.2 L1778.2,908.8 L1780.8,903.8 L1783.3,899.0 L1785.9,893.5 L1788.4,887.3 L1791.6,884.2 L1794.8,882.2 L1797.3,881.8 L1799.9,880.9 L1803.1,877.3 L1806.3,873.2 L1808.8,868.1 L1811.4,866.5 L1813.9,861.8 L1817.1,857.4 L1820.3,852.8 L1822.8,850.9 L1825.4,851.0 L1827.9,847.7 L1830.5,843.9 L1833.0,842.7 L1835.6,840.9 L1838.1,840.1 L1840.7,836.3 L1843.2,832.5 L1847.1,823.5 L1849.7,821.4 L1852.2,818.4 L1855.3,817.1 L1858.5,814.6 L1861.7,808.6 L1864.9,802.6 L1868.1,801.0 L1871.3,800.6 L1874.4,797.8 L1877.6,796.0 L1880.8,790.7 L1884.0,786.6 L1887.2,782.0 L1890.4,778.9 L1893.4,776.4 L1896.3,773.5 L1899.3,771.3 L1902.3,769.2 L1905.2,766.4 L1908.2,764.9 L1911.4,760.8 L1914.6,758.0 L1917.8,756.9 L1921.0,756.0 L1923.5,753.8 L1926.1,752.9 L1928.6,750.1 L1931.2,747.2 L1933.7,745.6 L1936.3,743.2 L1938.8,740.6 L1941.4,737.2 L1943.9,735.6 L1947.1,732.7 L1950.3,728.7 L1953.3,727.1 L1956.2,723.8 L1959.2,723.6 L1961.8,722.1 L1964.3,720.3 L1966.9,717.7 L1969.4,715.4 L1972.0,715.5 L1974.5,712.6 L1977.0,709.3 L1979.6,705.8 L1983.4,703.2 L1984.7,742.0 L1985.7,818.0 L1987.0,875.0 L1989.0,915.0 L1991.5,945.0 L1992.7,962.0 L1993.5,982.9 L1995.5,1003.3 L1999.3,1031.4 L2003.1,1059.4 L2007.0,1073.4 L2009.5,1070.9 L2012.0,1071.6 L2014.6,1073.9 L2017.2,1073.5 L2019.7,1072.2 L2022.3,1068.3 L2024.0,1051.8 L2027.4,1033.9 L2030.7,1025.0 L2033.2,1020.3 L2035.8,1016.1 L2037.6,994.4 L2041.4,999.5 L2043.9,1000.2 L2046.5,1001.4 L2049.0,1004.6 L2052.2,1008.6 L2055.4,1012.3 L2059.2,1017.4 L2062.4,1020.0 L2065.6,1023.7 L2068.1,1026.1 L2070.7,1027.6 L2074.5,1028.3 L2077.1,1026.9 L2079.6,1025.0 L2082.8,1021.4 L2086.0,1018.6 L2088.2,1017.6 L2090.3,1017.4 L2092.4,1005.9 L2094.9,1008.4 L2097.5,1008.4 L2100.7,1010.9 L2103.8,1011.0 L2106.4,1013.4 L2108.9,1014.8 L2112.7,1023.7 L2115.2,1025.0 L2117.8,1026.8 L2121.0,1025.8 L2124.2,1026.3 L2126.8,1026.9 L2129.3,1029.2 L2131.9,1028.8 L2134.4,1029.8 L2137.0,1030.0 L2139.5,1030.9 L2142.7,1032.8 L2145.9,1036.5 L2148.4,1037.6 L2151.0,1038.5 L2153.6,1035.0 L2156.1,1032.7 L2158.6,1029.8 L2161.2,1026.8 L2163.8,1026.4 L2166.3,1025.0 L2170.1,1016.1 L2172.1,1011.0 L2173.9,1033.9 L2176.0,1050.5 L2179.0,1047.9 L2182.9,1036.5 L2186.7,1026.3 L2189.2,1023.9 L2191.8,1019.9 L2194.3,1008.4 L2196.9,1005.3 L2199.4,1002.1 L2203.2,993.1 L2207.1,980.4 L2209.6,975.1 L2212.2,970.2 L2216.0,965.1 L2218.6,964.0 L2221.1,962.6 L2223.5,962.6 L2225.9,960.0" stroke="#ff0000" stroke-linecap="square"/>
<path d="M160.6,1033.8 L161.7,1011.1 L162.7,987.4 L165.9,983.5 L168.5,978.0 L170.4,960.6 L173.6,946.4 L177.4,940.8 L180.3,937.7 L181.2,929.0 L184.4,921.1 L187.0,913.1 L189.2,909.4 L191.4,907.7 L193.7,902.4 L195.9,899.0 L199.1,893.4 L201.6,891.8 L202.5,884.7 L206.1,880.8 L209.3,876.1 L211.2,862.6 L214.4,857.1 L217.5,852.5 L220.5,849.2 L223.5,842.8 L226.5,841.0 L229.2,837.7 L232.0,834.7 L234.1,825.2 L238.0,821.0 L241.0,817.1 L243.9,818.0 L246.9,815.1 L249.4,812.3 L252.0,810.4 L254.5,806.3 L257.4,804.6 L260.2,804.2 L263.1,802.4 L266.0,801.4 L269.2,796.1 L272.4,792.0 L275.8,788.9 L279.1,784.5 L282.5,782.4 L285.1,779.0 L287.6,776.7 L290.1,773.0 L292.7,769.8 L295.1,767.1 L297.6,767.0 L300.0,762.7 L303.2,760.4 L306.4,757.4 L309.5,755.7 L312.7,753.2 L315.9,749.6 L319.1,746.5 L322.3,743.4 L325.5,740.5 L328.7,738.7 L331.9,733.4 L335.0,730.0 L338.2,726.3 L341.4,724.9 L344.6,724.1 L347.8,720.2 L351.0,718.5 L354.1,716.3 L357.1,717.4 L360.2,712.4 L363.2,711.8 L366.3,710.5 L368.8,710.4 L371.4,711.0 L373.9,708.3 L377.1,704.3 L380.3,699.9 L383.5,699.4 L386.7,695.6 L389.9,694.4 L393.0,693.8 L396.2,693.7 L399.4,692.5 L402.2,690.8 L404.9,689.0 L407.7,686.5 L410.5,686.1 L413.2,684.3 L416.0,681.1 L418.9,679.4 L421.8,677.3 L424.6,676.6 L427.5,674.2 L430.5,673.0 L433.6,670.1 L436.6,669.0 L439.7,668.8 L442.7,666.3 L445.9,664.8 L449.1,663.1 L452.3,662.2 L455.5,660.6 L458.4,660.0 L461.2,659.4 L464.1,657.2 L467.0,658.3 L469.9,657.6 L472.7,654.1 L475.5,651.0 L478.4,649.5 L481.4,649.6 L484.4,648.3 L487.4,647.3 L491.2,641.6 L494.4,640.8 L497.5,640.9 L500.7,641.2 L503.9,638.5 L507.1,636.8 L510.3,635.6 L513.5,633.9 L516.7,629.9 L519.9,627.7 L523.0,626.8 L526.2,626.6 L529.4,624.6 L532.6,621.8 L535.8,621.8 L539.0,621.9 L542.2,619.5 L545.4,618.8 L548.5,616.9 L551.7,613.1 L554.9,613.2 L558.1,614.3 L561.2,611.7 L564.4,611.0 L567.6,609.3 L570.7,608.2 L573.7,604.7 L576.8,603.4 L579.8,602.0 L582.9,601.5 L585.8,602.1 L588.7,598.6 L591.6,598.0 L594.6,596.8 L597.5,596.4 L600.4,594.8 L603.5,593.0 L606.5,590.6 L609.6,587.0 L612.6,583.2 L615.7,583.7 L618.8,583.2 L621.8,582.7 L624.9,582.9 L627.9,581.1 L631.0,580.6 L634.2,578.1 L637.4,577.0 L640.5,573.3 L643.7,572.6 L646.8,570.8 L649.8,569.9 L652.9,570.1 L655.9,570.7 L659.0,567.9 L662.2,566.9 L665.3,565.5 L668.5,563.0 L671.6,561.3 L674.8,559.4 L677.7,557.8 L680.6,556.7 L683.5,553.7 L686.4,553.5 L689.3,552.3 L692.2,552.2 L695.3,551.9 L698.3,550.8 L701.4,550.3 L704.4,549.7 L707.5,547.3 L710.5,544.9 L713.6,543.8 L716.6,542.4 L719.7,538.5 L722.7,536.3 L725.7,536.7 L728.7,535.1 L731.7,533.4 L734.6,534.3 L737.6,533.0 L740.6,533.2 L743.7,530.5 L746.7,527.1 L749.8,524.9 L752.8,519.9 L755.9,518.9 L758.5,519.6 L761.0,517.8 L763.5,515.1 L766.1,514.2 L769.3,510.3 L772.5,507.9 L775.6,505.3 L778.8,501.6 L781.9,500.7 L784.9,499.4 L788.0,496.1 L791.0,495.5 L794.1,495.3 L797.3,494.4 L800.5,491.5 L803.7,488.0 L806.9,487.3 L809.5,485.6 L812.0,484.0 L814.5,483.4 L817.1,483.2 L819.6,481.9 L822.2,478.4 L824.7,476.3 L827.8,476.6 L830.8,475.2 L833.9,473.0 L836.9,473.1 L840.0,473.1 L842.9,472.3 L845.8,466.9 L848.6,463.9 L851.5,462.0 L854.1,462.2 L856.8,460.2 L859.4,459.1 L862.0,458.2 L864.7,457.9 L867.5,453.5 L870.2,453.5 L873.4,449.1 L876.6,444.1 L879.6,442.4 L882.5,441.3 L885.5,441.8 L888.0,439.8 L890.6,440.3 L893.2,437.9 L895.7,436.7 L898.9,433.3 L902.1,433.0 L905.4,414.0 L907.2,366.6 L909.7,361.0 L912.0,362.0 L914.3,365.1 L918.6,344.5 L921.2,338.0 L923.7,328.7 L926.5,324.1 L929.3,317.6 L931.2,274.9 L932.0,208.3 L934.4,135.3 L936.5,143.8 L938.4,149.4 L939.7,189.7 L941.0,220.7 L943.5,246.8 L944.6,260.0 L947.5,259.1 L950.5,260.0 L953.8,251.9 L956.6,256.0 L959.4,255.9 L961.7,254.9 L964.0,254.5 L965.8,265.5 L967.2,245.5 L967.6,146.3 L969.2,122.8 L971.5,136.4 L973.0,142.6 L975.2,195.9 L977.6,243.0 L981.1,281.2 L984.9,322.4 L987.5,323.9 L991.3,350.8 L993.1,385.5 L994.6,387.1 L997.6,420.4 L1001.5,431.4 L1004.0,432.4 L1007.8,458.3 L1010.4,496.3 L1011.7,543.6 L1013.7,575.2 L1015.5,583.2 L1017.5,559.4 L1018.6,496.3 L1019.8,448.8 L1021.1,496.3 L1023.1,559.4 L1025.7,592.7 L1026.1,654.7 L1027.4,686.3 L1028.0,713.3 L1029.6,675.3 L1030.6,662.7 L1032.5,675.3 L1034.4,699.0 L1036.3,713.3 L1038.2,722.7 L1039.3,732.1 L1040.5,703.7 L1041.4,706.9 L1042.7,733.7 L1044.0,765.3 L1044.9,776.4 L1046.9,765.3 L1048.4,766.9 L1050.3,771.7 L1054.2,772.4 L1056.1,782.7 L1057.3,774.9 L1058.9,759.8 L1059.9,762.2 L1060.9,797.0 L1061.8,828.6 L1062.7,838.9 L1064.4,839.6 L1066.0,831.7 L1066.9,812.7 L1067.5,765.3 L1068.2,718.0 L1068.7,654.7 L1069.9,326.1 L1073.3,654.7 L1073.9,702.1 L1075.2,757.4 L1077.1,797.0 L1079.0,812.7 L1080.9,833.3 L1081.8,828.6 L1082.6,781.2 L1083.5,779.6 L1085.4,782.7 L1087.9,783.6 L1089.8,778.0 L1091.8,785.9 L1093.7,804.9 L1095.6,823.9 L1098.1,834.9 L1101.3,824.6 L1103.9,819.0 L1106.4,812.0 L1108.7,809.4 L1110.9,808.9 L1113.5,805.1 L1116.0,801.7 L1119.2,795.4 L1122.3,787.4 L1124.8,780.2 L1127.4,770.0 L1130.0,763.7 L1132.5,760.6 L1137.0,740.0 L1140.2,737.7 L1142.8,736.6 L1145.3,733.7 L1147.8,729.0 L1150.0,710.5 L1151.2,708.4 L1153.8,704.5 L1156.3,700.9 L1158.9,696.5 L1161.4,694.3 L1164.4,690.5 L1167.3,686.3 L1170.3,683.1 L1172.8,675.4 L1175.4,666.2 L1177.9,659.4 L1181.1,656.6 L1184.3,654.7 L1187.5,654.8 L1190.7,656.3 L1199.6,623.1 L1202.8,616.5 L1206.0,612.1 L1208.5,609.4 L1211.1,608.0 L1213.7,606.3 L1216.2,605.7 L1219.5,584.2 L1220.8,536.8 L1222.1,498.9 L1223.3,536.8 L1225.4,562.1 L1227.9,571.5 L1230.5,566.8 L1233.6,569.8 L1236.8,571.8 L1239.9,574.1 L1242.9,571.6 L1245.8,571.9 L1248.8,570.0 L1251.4,569.2 L1253.9,569.2 L1256.5,566.8 L1259.0,563.5 L1261.6,560.5 L1265.4,547.8 L1267.9,546.1 L1270.5,544.1 L1273.0,543.1 L1276.9,533.7 L1279.5,532.2 L1282.0,531.0 L1284.5,529.1 L1287.1,527.4 L1289.9,524.8 L1292.8,523.1 L1295.7,520.3 L1298.5,517.8 L1299.8,489.4 L1301.1,472.1 L1303.6,483.1 L1306.7,492.5 L1309.0,494.4 L1311.3,495.8 L1314.3,493.6 L1317.2,493.4 L1320.2,491.9 L1322.7,488.6 L1325.3,486.4 L1327.8,484.7 L1330.3,484.1 L1332.9,485.0 L1335.5,483.2 L1338.0,481.5 L1340.6,467.2 L1341.9,423.0 L1342.6,419.9 L1344.4,441.9 L1348.2,456.2 L1351.4,459.4 L1354.6,462.5 L1357.2,461.3 L1359.7,461.3 L1362.3,459.4 L1364.8,438.8 L1367.9,439.8 L1369.9,435.0 L1373.7,446.8 L1376.7,447.5 L1379.7,446.8 L1382.7,445.2 L1385.2,438.8 L1387.0,410.4 L1389.0,423.0 L1391.6,424.4 L1394.1,426.4 L1396.7,427.8 L1399.8,429.6 L1403.0,431.9 L1404.8,403.4 L1406.9,410.4 L1409.4,421.5 L1412.0,420.4 L1414.5,419.0 L1417.1,418.9 L1419.6,418.8 L1422.2,417.2 L1424.7,419.3 L1428.5,415.2 L1431.5,414.4 L1434.5,416.1 L1437.5,416.0 L1440.5,416.3 L1443.4,418.7 L1446.4,419.3 L1449.0,415.3 L1451.5,413.5 L1454.0,411.7 L1456.6,410.4 L1459.1,378.8 L1460.4,340.3 L1462.4,340.3 L1464.2,369.3 L1467.5,375.6 L1469.3,347.2 L1471.1,338.3 L1473.1,347.2 L1475.2,363.0 L1478.2,366.2 L1479.5,441.9 L1481.6,617.5 L1482.9,716.7 L1483.5,811.6 L1484.7,874.8 L1486.0,919.0 L1488.0,944.3 L1491.9,968.0 L1494.5,969.1 L1497.0,969.6 L1500.8,982.2 L1504.6,1001.2 L1507.2,1010.6 L1509.8,1012.1 L1512.3,1015.4 L1514.0,1001.2 L1516.1,974.3 L1518.1,1001.2 L1520.4,1031.2 L1523.7,1013.8 L1527.5,1018.5 L1529.3,963.2 L1532.6,960.1 L1536.5,941.2 L1539.0,942.7 L1541.6,979.1 L1544.9,1024.9 L1547.9,972.8 L1551.3,1001.2 L1554.8,1031.2 L1556.9,985.4 L1558.1,922.2 L1559.4,896.9 L1561.4,960.1 L1563.2,909.5 L1565.8,953.8 L1568.3,1001.2 L1570.1,1017.1 L1572.2,1018.5 L1574.2,974.3 L1576.7,994.9 L1579.3,1017.1 L1581.4,1020.3 L1583.6,1024.9 L1586.2,1027.4 L1588.7,1024.9 L1591.3,1025.9 L1595.1,1039.1 L1598.4,1050.2 L1601.2,1048.0 L1604.0,1047.1 L1606.6,1045.0 L1609.1,1044.0 L1611.7,1042.4 L1614.7,1032.8 L1618.0,1045.5 L1620.6,1047.5 L1623.1,1050.5 L1625.7,1051.8 L1628.5,1054.8 L1631.3,1056.0 L1634.1,1058.7 L1635.3,1001.2 L1636.3,956.7 L1637.6,1001.2 L1639.7,1032.8 L1642.3,1050.2 L1645.4,1053.0 L1648.6,1056.5 L1651.2,1055.8 L1653.7,1056.2 L1656.3,1058.1 L1659.3,1059.0 L1662.2,1061.9 L1665.2,1062.8 L1669.0,1060.6 L1672.8,1062.8 L1676.0,1062.1 L1679.2,1061.2 L1682.4,1059.6 L1685.6,1056.5 L1689.4,1039.1 L1692.5,1020.2 L1694.5,1001.2 L1695.8,983.8 L1698.3,983.9 L1700.9,982.2 L1703.4,977.5 L1707.3,974.3 L1711.1,958.5 L1714.9,953.8 L1717.5,945.7 L1720.0,937.9 L1722.5,935.1 L1725.1,928.5 L1728.3,918.6 L1731.5,909.5 L1734.0,905.8 L1736.6,903.2 L1739.2,898.9 L1741.7,895.3 L1744.8,893.1 L1748.0,889.0 L1750.3,883.9 L1752.7,879.2 L1754.0,853.9 L1757.8,853.9 L1760.4,851.3 L1762.9,850.5 L1765.5,848.2 L1768.0,845.3 L1770.6,840.3 L1773.1,836.5 L1775.7,831.0 L1778.2,826.9 L1780.8,820.6 L1783.3,814.7 L1785.9,807.8 L1788.4,800.2 L1791.6,796.3 L1794.8,793.9 L1797.3,793.3 L1799.9,792.2 L1803.1,787.8 L1806.3,782.7 L1808.8,776.4 L1811.4,774.3 L1813.9,768.6 L1817.1,763.1 L1820.3,757.4 L1822.8,755.0 L1825.4,755.2 L1827.9,751.1 L1830.5,746.4 L1833.0,744.9 L1835.6,742.6 L1838.1,741.7 L1840.7,736.9 L1843.2,732.2 L1847.1,721.1 L1849.7,718.4 L1852.2,714.7 L1855.3,713.1 L1858.5,710.0 L1861.7,702.5 L1864.9,695.2 L1868.1,693.1 L1871.3,692.7 L1874.4,689.2 L1877.6,687.0 L1880.8,680.4 L1884.0,675.3 L1887.2,669.6 L1890.4,665.8 L1893.4,662.6 L1896.3,659.0 L1899.3,656.3 L1902.3,653.7 L1905.2,650.3 L1908.2,648.4 L1911.4,643.4 L1914.6,639.8 L1917.8,638.4 L1921.0,637.4 L1923.5,634.6 L1926.1,633.5 L1928.6,630.1 L1931.2,626.4 L1933.7,624.5 L1936.3,621.5 L1938.8,618.3 L1941.4,614.1 L1943.9,612.1 L1947.1,608.4 L1950.3,603.5 L1953.3,601.6 L1956.2,597.4 L1959.2,597.2 L1961.8,595.3 L1964.3,593.1 L1966.9,589.9 L1969.4,587.1 L1972.0,587.2 L1974.5,583.6 L1977.0,579.5 L1979.6,575.1 L1983.4,571.9 L1984.7,620.0 L1985.7,714.2 L1987.0,784.9 L1989.0,834.5 L1991.5,871.7 L1992.7,892.8 L1993.5,918.7 L1995.5,944.0 L1999.3,978.9 L2003.1,1013.6 L2007.0,1030.9 L2009.5,1027.8 L2012.0,1028.7 L2014.6,1031.6 L2017.2,1031.0 L2019.7,1029.5 L2022.3,1024.6 L2024.0,1004.2 L2027.4,982.0 L2030.7,970.9 L2033.2,965.1 L2035.8,959.9 L2037.6,933.0 L2041.4,939.3 L2043.9,940.2 L2046.5,941.6 L2049.0,945.6 L2052.2,950.6 L2055.4,955.2 L2059.2,961.5 L2062.4,964.8 L2065.6,969.3 L2068.1,972.3 L2070.7,974.2 L2074.5,975.0 L2077.1,973.3 L2079.6,970.9 L2082.8,966.5 L2086.0,963.0 L2088.2,961.8 L2090.3,961.5 L2092.4,947.2 L2094.9,950.4 L2097.5,950.3 L2100.7,953.5 L2103.8,953.6 L2106.4,956.6 L2108.9,958.3 L2112.7,969.3 L2115.2,970.9 L2117.8,973.2 L2121.0,972.0 L2124.2,972.5 L2126.8,973.2 L2129.3,976.1 L2131.9,975.6 L2134.4,976.9 L2137.0,977.1 L2139.5,978.2 L2142.7,980.6 L2145.9,985.2 L2148.4,986.6 L2151.0,987.7 L2153.6,983.3 L2156.1,980.5 L2158.6,976.8 L2161.2,973.2 L2163.8,972.7 L2166.3,970.9 L2170.1,959.9 L2172.1,953.6 L2173.9,982.0 L2176.0,1002.5 L2179.0,999.3 L2182.9,985.2 L2186.7,972.5 L2189.2,969.5 L2191.8,964.6 L2194.3,950.3 L2196.9,946.6 L2199.4,942.5 L2203.2,931.4 L2207.1,915.6 L2209.6,909.0 L2212.2,903.0 L2216.0,896.7 L2218.6,895.3 L2221.1,893.6 L2223.5,893.5 L2225.9,890.3" stroke="#008000" stroke-dasharray="15.42 6.67" stroke-dashoffset="1.03"/>
</g>
<g stroke="#1c1c1c" stroke-width="3" stroke-linecap="square" fill="none"><line x1="159.5" y1="69.7" x2="159.5" y2="1148.5"/><line x1="159.5" y1="1148.5" x2="2329.4" y2="1148.5"/></g>
<filter id="g" x="0" y="0" width="100%" height="100%" filterUnits="userSpaceOnUse" color-interpolation-filters="sRGB"><feColorMatrix type="saturate" values="0"/></filter><g filter="url(#g)">
<text class="tick" x="416" y="1184.3" text-anchor="middle">03:00</text>
<text class="tick" x="674.6" y="1184.3" text-anchor="middle">06:00</text>
<text class="tick" x="933.1" y="1184.3" text-anchor="middle">09:00</text>
<text class="tick" x="1191.8" y="1184.3" text-anchor="middle">12:00</text>
<text class="tick" x="1450.2" y="1184.3" text-anchor="middle">15:00</text>
<text class="tick" x="1708.8" y="1184.3" text-anchor="middle">18:00</text>
<text class="tick" x="1967.2" y="1184.3" text-anchor="middle">21:00</text>
<text class="tick" x="2225.9" y="1184.3" text-anchor="middle">00:00</text>
<text class="tick" x="149.2" y="1059.2" text-anchor="end">500</text>
<text class="tick" x="149.2" y="854.8000000000001" text-anchor="end">1000</text>
<text class="tick" x="149.2" y="650.4000000000001" text-anchor="end">1500</text>
<text class="tick" x="149.2" y="446.2" text-anchor="end">2000</text>
<text class="tick" x="149.2" y="242.2" text-anchor="end">2500</text>
<text class="xl" x="1244.3" y="1228.2" text-anchor="middle">Time</text>
<text class="lab" transform="translate(44.9,610.3) rotate(-90)" text-anchor="middle">CO2 Concentration (ppm)</text>
<text class="ttl" x="1244.3" y="54.2" text-anchor="middle">CO2 Click Model F vs Aranet4 Home CO2 Concentration</text>
</g>
<rect x="1780.5" y="84.6" width="534.9" height="133.8" rx="5.5" ry="5.5" fill="#ffffff" fill-opacity="0.8" stroke="#d6d6d6" stroke-width="2.8"/>
<g fill="none" stroke-width="4.17">
<line x1="1789.9" y1="106.95" x2="1849.1" y2="106.95" stroke="#0000ff"/>
<line x1="1789.9" y1="149" x2="1849.1" y2="149" stroke="#ff0000"/>
<line x1="1792" y1="190.93" x2="1847" y2="190.93" stroke="#008000" stroke-dasharray="15.42 6.67"/>
</g>
<g filter="url(#g)">
<text class="leg" x="1869.3" y="118.4">Aranet4 CO2</text>
<text class="leg" x="1869.3" y="159.85">Model F CO2</text>
<text class="leg" x="1869.3" y="200.6">Model F (Air Pressure Adjusted)</text>
</g>
</svg></body></html>
